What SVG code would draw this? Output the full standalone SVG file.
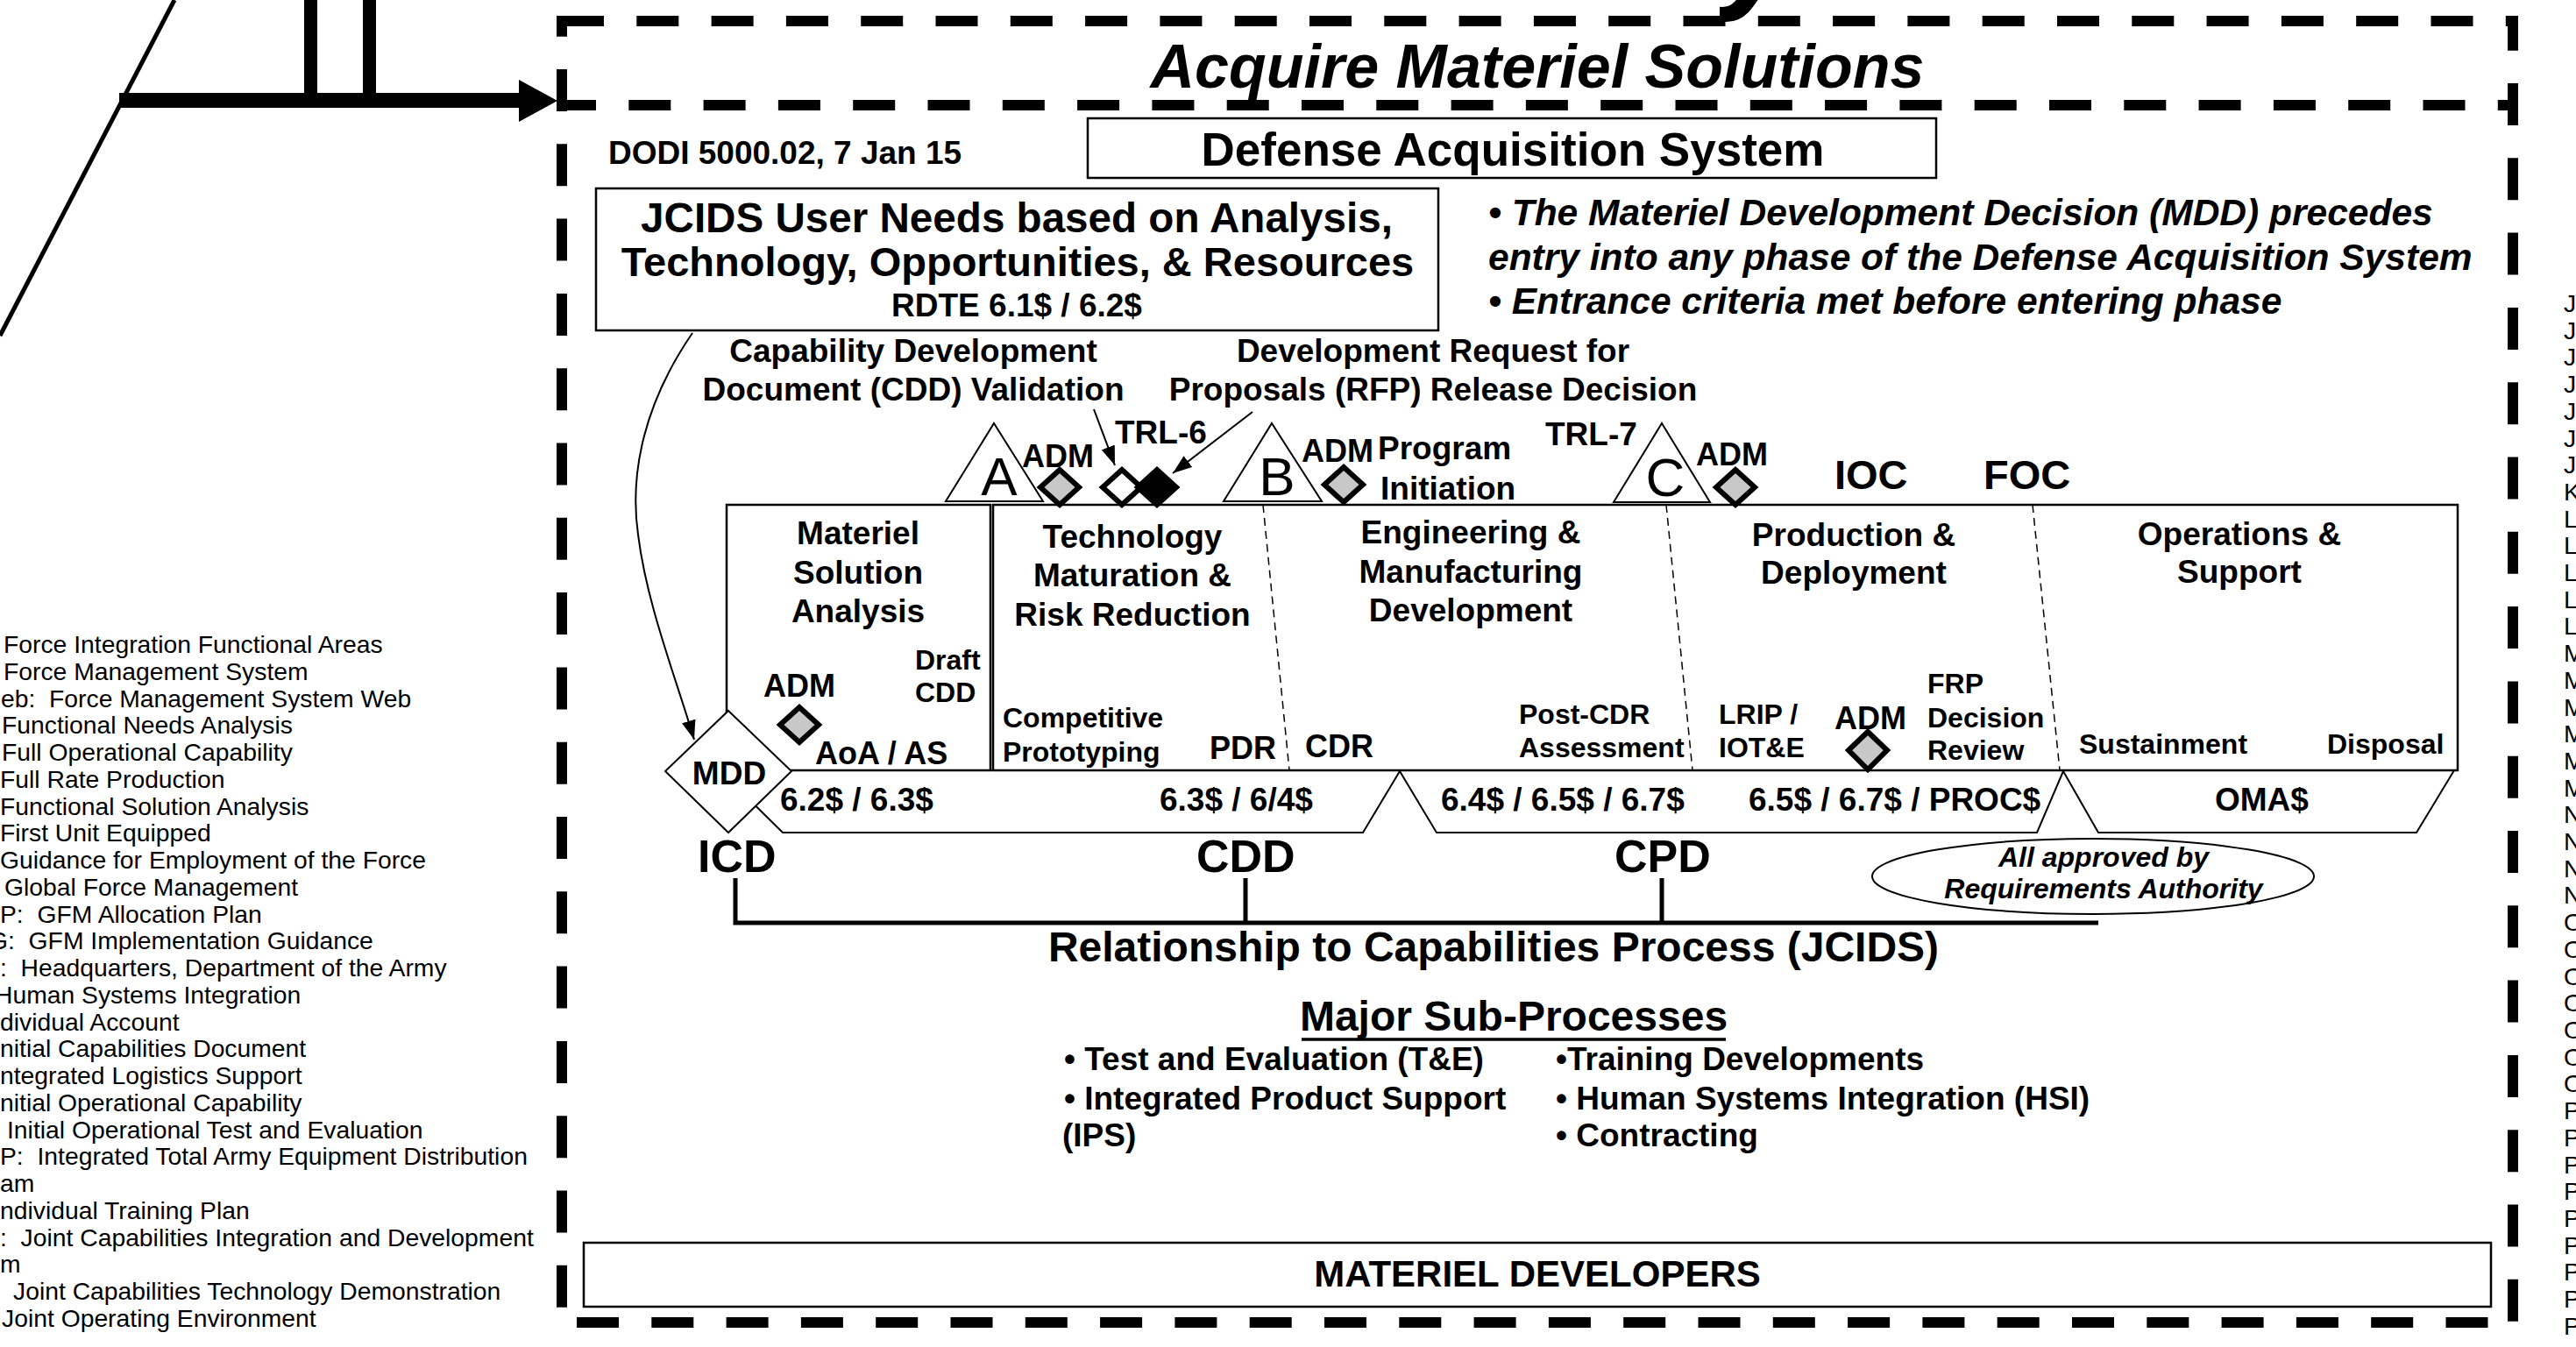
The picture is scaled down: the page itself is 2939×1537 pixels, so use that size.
<svg xmlns="http://www.w3.org/2000/svg" width="2939" height="1537" viewBox="0 0 2939 1537">
<defs>
<style>
text { font-family: "Liberation Sans", Arial, sans-serif; fill: #000; }
.b { font-weight: bold; }
.i { font-style: italic; }
.m { text-anchor: middle; }
.lg { font-size: 28.3px; white-space: pre; }
.f32 { font-size: 32px; }
.f36 { font-size: 36px; }
.f37 { font-size: 37px; }
.box { fill: none; stroke: #000; stroke-width: 2.5; }
.thin { fill: #fff; stroke: #000; stroke-width: 2; }
.line { fill: none; stroke: #000; stroke-width: 2; }
.dia { stroke: #000; stroke-width: 6; stroke-linejoin: miter; }
.grey { fill: #c8c8c8; }
.frame { fill: none; stroke: #000; stroke-width: 12; stroke-dasharray: 48 37.3; }
.sep { stroke: #000; stroke-width: 1.5; stroke-dasharray: 9 6; fill: none; }
.brk { fill: none; stroke: #000; stroke-width: 5; }
</style>
<marker id="ah" viewBox="0 0 22 16" refX="22" refY="8" markerWidth="22" markerHeight="16" markerUnits="userSpaceOnUse" orient="auto">
<path d="M0,0 L22,8 L0,16 Z" fill="#000"/>
</marker>
<clipPath id="topclip">
<path d="M1962,0 L2008,0 L1990,32 L1962,32 Z"/>
</clipPath>
</defs>
<rect width="2939" height="1537" fill="#fff"/>

<!-- fragment of text above the crop -->
<g clip-path="url(#topclip)">
<text class="b i" x="1962" y="-10" font-size="170">y</text>
</g>

<g id="frame">
<line class="frame" x1="641" y1="24" x2="2873" y2="24"/>
<line class="frame" x1="641" y1="120" x2="2873" y2="120" stroke-dashoffset="9"/>
<line class="frame" x1="641" y1="18" x2="641" y2="1492" stroke-dashoffset="24.3"/>
<line class="frame" x1="2867" y1="18" x2="2867" y2="1508" stroke-dashoffset="8.3"/>
<line class="frame" x1="641" y1="1509" x2="2842" y2="1509" stroke-dashoffset="68.3"/>
</g>

<g id="title">
<text class="b i m" x="1754" y="100" font-size="70">Acquire Materiel Solutions</text>
</g>

<g id="dodi">
<text class="b f37" x="694" y="187">DODI 5000.02, 7 Jan 15</text>
</g>

<g id="defense-acquisition-system">
<rect class="box" x="1241" y="135" width="968" height="68"/>
<text class="b m" x="1726" y="189" font-size="53">Defense Acquisition System</text>
</g>

<g id="jcids-user-needs">
<rect class="box" x="680" y="215" width="961" height="162"/>
<text class="b m" x="1160" y="265" font-size="47.6">JCIDS User Needs based on Analysis,</text>
<text class="b m" x="1161" y="315" font-size="47">Technology, Opportunities, &amp; Resources</text>
<text class="b m" x="1160" y="361" font-size="37">RDTE 6.1$ / 6.2$</text>
</g>

<g id="mdd-notes">
<text class="b i" x="1698" y="257" font-size="42.5">• The Materiel Development Decision (MDD) precedes</text>
<text class="b i" x="1698" y="308" font-size="42.5">entry into any phase of the Defense Acquisition System</text>
<text class="b i" x="1698" y="358" font-size="42.5">• Entrance criteria met before entering phase</text>
</g>

<g id="cdd-validation">
<text class="b m f37" x="1042" y="413">Capability Development</text>
<text class="b m f37" x="1042" y="457">Document (CDD) Validation</text>
</g>

<g id="rfp-release">
<text class="b m f37" x="1635" y="413">Development Request for</text>
<text class="b m f37" x="1635" y="457">Proposals (RFP) Release Decision</text>
</g>

<g id="funding-band">
<path class="thin" d="M821,879 L893,950 L1555,950 L1597,880 L1639,950 L2324,950 L2354,880 L2394,950 L2757,950 L2800,879 Z"/>
<text class="b f37" x="890" y="925">6.2$ / 6.3$</text>
<text class="b f37" x="1323" y="925">6.3$ / 6/4$</text>
<text class="b f37" x="1644" y="925">6.4$ / 6.5$ / 6.7$</text>
<text class="b f37" x="1995" y="925">6.5$ / 6.7$ / PROC$</text>
<text class="b f37" x="2527" y="925">OMA$</text>
</g>

<g id="phase-msa">
<rect class="box" x="829" y="576" width="301" height="303"/>
<text class="b m f37" x="979" y="621">Materiel</text>
<text class="b m f37" x="979" y="666">Solution</text>
<text class="b m f37" x="979" y="710">Analysis</text>
<text class="b f36" x="871" y="795">ADM</text>
<path class="dia grey" d="M912,807 L934,827 L912,847 L890,827 Z"/>
<text class="b f32" x="1044" y="764">Draft</text>
<text class="b f32" x="1044" y="801">CDD</text>
<text class="b f36" x="930" y="872">AoA / AS</text>
</g>

<g id="phases-main">
<rect class="box" x="1133" y="576" width="1671" height="303"/>
<line class="sep" x1="1441" y1="576" x2="1471" y2="879"/>
<line class="sep" x1="1901" y1="576" x2="1931" y2="879"/>
<line class="sep" x1="2319" y1="576" x2="2350" y2="879"/>
</g>

<g id="phase-tmrr">
<text class="b m f37" x="1292" y="625">Technology</text>
<text class="b m f37" x="1292" y="669">Maturation &amp;</text>
<text class="b m f37" x="1292" y="714">Risk Reduction</text>
<text class="b f32" x="1144" y="830">Competitive</text>
<text class="b f32" x="1144" y="869">Prototyping</text>
<text class="b f36" x="1380" y="866">PDR</text>
</g>

<g id="phase-emd">
<text class="b m f37" x="1678" y="620">Engineering &amp;</text>
<text class="b m f37" x="1678" y="665">Manufacturing</text>
<text class="b m f37" x="1678" y="709">Development</text>
<text class="b f36" x="1489" y="864">CDR</text>
<text class="b f32" x="1733" y="826">Post-CDR</text>
<text class="b f32" x="1733" y="864">Assessment</text>
</g>

<g id="phase-pd">
<text class="b m f37" x="2115" y="623">Production &amp;</text>
<text class="b m f37" x="2115" y="666">Deployment</text>
<text class="b f32" x="1961" y="826">LRIP /</text>
<text class="b f32" x="1961" y="864">IOT&amp;E</text>
<text class="b f36" x="2093" y="832">ADM</text>
<path class="dia grey" d="M2131,835 L2153,856 L2131,878 L2109,856 Z"/>
<text class="b f32" x="2199" y="791">FRP</text>
<text class="b f32" x="2199" y="830">Decision</text>
<text class="b f32" x="2199" y="867">Review</text>
</g>

<g id="phase-os">
<text class="b m f37" x="2555" y="622">Operations &amp;</text>
<text class="b m f37" x="2555" y="665">Support</text>
<text class="b f32" x="2372" y="860">Sustainment</text>
<text class="b f32" x="2655" y="860">Disposal</text>
</g>

<g id="mdd">
<path class="thin" d="M831,811 L903,880 L831,950 L759,880 Z"/>
<text class="b m f37" x="832" y="895">MDD</text>
</g>

<g id="milestone-a">
<path class="thin" d="M1134,483 L1190,572 L1079,572 Z"/>
<text class="m" x="1140" y="565" font-size="62">A</text>
<text class="b f36" x="1166" y="533">ADM</text>
<path class="dia grey" d="M1209,536 L1231,556 L1209,576 L1187,556 Z"/>
</g>

<g id="cdd-validation-point">
<path class="dia" fill="#fff" d="M1280,536 L1302,556 L1280,576 L1258,556 Z"/>
</g>

<g id="rfp-release-point">
<path class="dia" fill="#000" d="M1320,536 L1342,556 L1320,576 L1298,556 Z"/>
<text class="b f37" x="1272" y="506">TRL-6</text>
</g>

<g id="milestone-b">
<path class="thin" d="M1451,483 L1508,572 L1396,572 Z"/>
<text class="m" x="1457" y="565" font-size="62">B</text>
<text class="b f36" x="1485" y="527">ADM</text>
<path class="dia grey" d="M1533,533 L1555,553 L1533,573 L1511,553 Z"/>
<text class="b f37" x="1572" y="524">Program</text>
<text class="b f37" x="1575" y="570">Initiation</text>
</g>

<g id="milestone-c">
<text class="b f37" x="1763" y="508">TRL-7</text>
<path class="thin" d="M1896,483 L1951,573 L1841,573 Z"/>
<text class="m" x="1900" y="566" font-size="62">C</text>
<text class="b f36" x="1935" y="531">ADM</text>
<path class="dia grey" d="M1980,536 L2002,556 L1980,576 L1958,556 Z"/>
</g>

<g id="ioc">
<text class="b" x="2093" y="558" font-size="47">IOC</text>
</g>
<g id="foc">
<text class="b" x="2263" y="558" font-size="47">FOC</text>
</g>

<g id="icd"><text class="b" x="796" y="995" font-size="52">ICD</text></g>
<g id="cdd"><text class="b" x="1365" y="995" font-size="52">CDD</text></g>
<g id="cpd"><text class="b" x="1842" y="995" font-size="52">CPD</text></g>

<g id="requirements-authority">
<ellipse class="thin" cx="2388" cy="1000" rx="252" ry="43"/>
<text class="b i m" x="2400" y="989" font-size="32">All approved by</text>
<text class="b i m" x="2400" y="1025" font-size="32">Requirements Authority</text>
</g>

<g id="jcids-relationship">
<text class="b m" x="1704" y="1097" font-size="48">Relationship to Capabilities Process (JCIDS)</text>
</g>

<g id="major-sub-processes">
<text class="b m" x="1727" y="1176" font-size="48">Major Sub-Processes</text>
<line x1="1485" y1="1186" x2="1969" y2="1186" stroke="#000" stroke-width="3.5"/>
<text class="b f37" x="1214" y="1221">• Test and Evaluation (T&amp;E)</text>
<text class="b f37" x="1214" y="1266">• Integrated Product Support</text>
<text class="b f37" x="1212" y="1308">(IPS)</text>
<text class="b f37" x="1775" y="1221">•Training Developments</text>
<text class="b f37" x="1775" y="1266">• Human Systems Integration (HSI)</text>
<text class="b f37" x="1775" y="1308">• Contracting</text>
</g>

<g id="materiel-developers">
<rect class="box" x="666" y="1418" width="2176" height="73"/>
<text class="b m" x="1754" y="1468" font-size="42">MATERIEL DEVELOPERS</text>
</g>

<g id="connectors">
<line x1="199" y1="0" x2="0" y2="383" stroke="#000" stroke-width="5"/>
<rect x="347" y="0" width="15" height="108" fill="#000"/>
<rect x="414" y="0" width="15" height="108" fill="#000"/>
<rect x="136" y="106" width="458" height="17" fill="#000"/>
<path d="M592,91 L636,115 L592,139 Z" fill="#000"/>
<path class="line" d="M790,380 C735,460 718,540 728,610 C738,690 770,770 792,844" marker-end="url(#ah)"/>
<line class="line" x1="1248" y1="467" x2="1272" y2="531" marker-end="url(#ah)"/>
<line class="line" x1="1429" y1="470" x2="1338" y2="540" marker-end="url(#ah)"/>
<path class="brk" d="M839,1002 V1053 H2394 M1421,1002 V1053 M1896,1002 V1053"/>
</g>

<g id="legend-left">
<text class="lg" x="4" y="745">Force Integration Functional Areas</text>
<text class="lg" x="4" y="776">Force Management System</text>
<text class="lg" x="1" y="807">eb:  Force Management System Web</text>
<text class="lg" x="2" y="837">Functional Needs Analysis</text>
<text class="lg" x="2" y="868">Full Operational Capability</text>
<text class="lg" x="0" y="899">Full Rate Production</text>
<text class="lg" x="0" y="930">Functional Solution Analysis</text>
<text class="lg" x="0" y="960">First Unit Equipped</text>
<text class="lg" x="0" y="991">Guidance for Employment of the Force</text>
<text class="lg" x="5" y="1022">Global Force Management</text>
<text class="lg" x="0" y="1053">P:  GFM Allocation Plan</text>
<text class="lg" x="-13" y="1083">G:  GFM Implementation Guidance</text>
<text class="lg" x="0" y="1114">:  Headquarters, Department of the Army</text>
<text class="lg" x="-6" y="1145">Human Systems Integration</text>
<text class="lg" x="0" y="1176">dividual Account</text>
<text class="lg" x="0" y="1206">nitial Capabilities Document</text>
<text class="lg" x="0" y="1237">ntegrated Logistics Support</text>
<text class="lg" x="0" y="1268">nitial Operational Capability</text>
<text class="lg" x="8" y="1299">Initial Operational Test and Evaluation</text>
<text class="lg" x="0" y="1329">P:  Integrated Total Army Equipment Distribution</text>
<text class="lg" x="0" y="1360">am</text>
<text class="lg" x="0" y="1391">ndividual Training Plan</text>
<text class="lg" x="0" y="1422">:  Joint Capabilities Integration and Development</text>
<text class="lg" x="0" y="1452">m</text>
<text class="lg" x="15" y="1483">Joint Capabilities Technology Demonstration</text>
<text class="lg" x="2" y="1514">Joint Operating Environment</text>
</g>

<g id="legend-right">
<text class="lg" x="2925" y="356">J</text>
<text class="lg" x="2925" y="387">J</text>
<text class="lg" x="2925" y="417">J</text>
<text class="lg" x="2925" y="448">J</text>
<text class="lg" x="2925" y="479">J</text>
<text class="lg" x="2925" y="510">J</text>
<text class="lg" x="2925" y="540">J</text>
<text class="lg" x="2925" y="571">K</text>
<text class="lg" x="2925" y="602">L</text>
<text class="lg" x="2925" y="632">L</text>
<text class="lg" x="2925" y="663">L</text>
<text class="lg" x="2925" y="694">L</text>
<text class="lg" x="2925" y="724">L</text>
<text class="lg" x="2925" y="755">M</text>
<text class="lg" x="2925" y="786">M</text>
<text class="lg" x="2925" y="817">M</text>
<text class="lg" x="2925" y="847">M</text>
<text class="lg" x="2925" y="878">M</text>
<text class="lg" x="2925" y="909">M</text>
<text class="lg" x="2925" y="939">N</text>
<text class="lg" x="2925" y="970">N</text>
<text class="lg" x="2925" y="1001">N</text>
<text class="lg" x="2925" y="1031">N</text>
<text class="lg" x="2925" y="1062">O</text>
<text class="lg" x="2925" y="1093">O</text>
<text class="lg" x="2925" y="1124">O</text>
<text class="lg" x="2925" y="1154">O</text>
<text class="lg" x="2925" y="1185">O</text>
<text class="lg" x="2925" y="1216">O</text>
<text class="lg" x="2925" y="1246">O</text>
<text class="lg" x="2925" y="1277">P</text>
<text class="lg" x="2925" y="1308">P</text>
<text class="lg" x="2925" y="1339">P</text>
<text class="lg" x="2925" y="1369">P</text>
<text class="lg" x="2925" y="1400">P</text>
<text class="lg" x="2925" y="1431">P</text>
<text class="lg" x="2925" y="1461">P</text>
<text class="lg" x="2925" y="1492">P</text>
<text class="lg" x="2925" y="1523">P</text>
</g>
</svg>
